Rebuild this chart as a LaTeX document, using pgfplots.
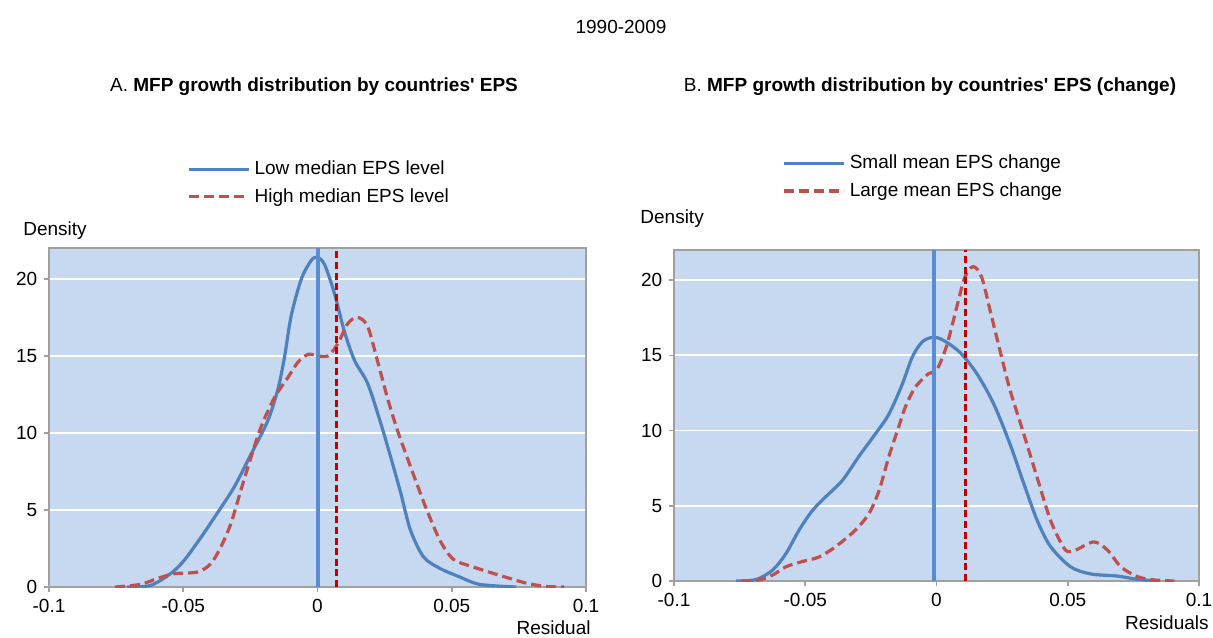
\documentclass[border=0pt]{standalone}
\usepackage{pgfplots}
\pgfplotsset{compat=1.18}
\usepackage{fontspec}
\setmainfont{Liberation Sans}[Ligatures=TeXOff]
\definecolor{bgblue}{RGB}{198,217,240}
\definecolor{cblue}{RGB}{79,129,189}
\definecolor{cred}{RGB}{192,80,77}
\definecolor{vblue}{RGB}{85,142,213}
\definecolor{vred}{RGB}{192,0,0}
\definecolor{framegray}{RGB}{160,160,160}
\begin{document}
\fontsize{9.5}{11.5}\selectfont
\begin{tikzpicture}
\useasboundingbox (0pt,0pt) rectangle (606.5pt,-318.5pt);
\pgfplotsset{
  myax/.style={
    scale only axis,
    xmin=-0.1, xmax=0.1, ymin=0, ymax=22,
    xtick={-0.1,-0.05,0,0.05,0.1},
    xticklabels={-0.1,-0.05,0,0.05,0.1},
    ytick={0,5,10,15,20},
    ymajorgrids,
    grid style={white, line width=0.9pt},
    axis background/.style={fill=bgblue},
    axis line style={framegray, line width=1.1pt},
    tick style={framegray, line width=0.8pt},
    major tick length=2.5pt,
    tick align=outside,
    xtick pos=bottom, ytick pos=left,
    ticklabel style={font=\fontsize{9.5}{11}\selectfont},
    /pgf/number format/assume math mode=true,
    legend style={draw=none, fill=none, font=\fontsize{9.5}{11}\selectfont,
      inner sep=0pt, row sep=1.5pt, legend cell align=left},
    legend image code/.code={\draw[##1] (0pt,0pt) -- (30pt,0pt);},
    clip=true,
  },
  curveblue/.style={cblue, line width=1.6pt, smooth, tension=0.5},
  curvered/.style={cred, line width=1.6pt, dash pattern=on 5pt off 2.5pt, smooth, tension=0.5},
  vblueline/.style={vblue, line width=2pt},
  vredline/.style={vred, line width=1.8pt, dash pattern=on 3.5pt off 1.8pt},
}

% Panel A
\begin{axis}[myax, at={(24.5pt,-293.5pt)}, anchor=south west, width=268.5pt, height=169.5pt,
  legend style={at={(0.257,1.27)}, anchor=north west}]
\addplot[curveblue] coordinates {
(-0.071,0) (-0.0623,0.1) (-0.0548,0.86) (-0.0498,1.7) (-0.0435,3.2) (-0.0373,4.8)
(-0.031,6.5) (-0.0248,8.6) (-0.0185,10.8) (-0.0148,12.8) (-0.0123,14.9) (-0.0098,17.6)
(-0.006,20.0) (-0.0023,21.2) (0,21.4) (0.0027,20.9) (0.0064,19.0) (0.010,16.6)
(0.0138,14.7) (0.0187,13.2) (0.0236,10.6) (0.0273,8.4) (0.031,6.1) (0.0346,3.7)
(0.0395,1.95) (0.0457,1.2) (0.053,0.65) (0.0604,0.17) (0.074,0)};
\addlegendentry{Low median EPS level}
\addplot[curvered] coordinates {
(-0.0754,0) (-0.066,0.17) (-0.0598,0.54) (-0.0535,0.86) (-0.0448,0.97) (-0.0398,1.5)
(-0.036,2.6) (-0.0323,4.1) (-0.0285,6.3) (-0.0248,8.4) (-0.021,10.4) (-0.016,12.3)
(-0.011,13.6) (-0.00725,14.6) (-0.0035,15.1) (0,15.0) (0.0039,15.0) (0.0076,15.8)
(0.0113,17.1) (0.015,17.5) (0.0187,16.9) (0.0223,14.7) (0.026,12.3) (0.0297,10.2)
(0.0334,8.4) (0.037,6.7) (0.0407,5.0) (0.0457,3.0) (0.0506,1.8) (0.058,1.3)
(0.0678,0.76) (0.0776,0.26) (0.085,0.04) (0.0918,0)};
\addlegendentry{High median EPS level}
\addplot[vblueline, forget plot] coordinates {(0,0) (0,22)};
\addplot[vredline, forget plot] coordinates {(0.007,0) (0.007,22)};
\end{axis}

% Panel B
\begin{axis}[myax, at={(337pt,-290.5pt)}, anchor=south west, width=262.5pt, height=165.5pt,
  legend style={at={(0.206,1.30)}, anchor=north west}]
\addplot[curveblue] coordinates {
(-0.0763,0) (-0.0687,0.1) (-0.0624,0.73) (-0.0573,1.84) (-0.0523,3.4) (-0.0472,4.7)
(-0.0422,5.6) (-0.0358,6.7) (-0.0295,8.3) (-0.0232,9.8) (-0.0181,11.1) (-0.013,13.1)
(-0.0092,14.9) (-0.0054,15.9) (-0.0013,16.2) (0.0026,16.0) (0.0089,15.2) (0.0153,13.8)
(0.0217,11.8) (0.028,9.1) (0.0332,6.5) (0.0383,4.05) (0.0434,2.3) (0.051,0.95)
(0.0587,0.47) (0.0689,0.33) (0.0765,0.11) (0.0842,0)};
\addlegendentry{Small mean EPS change}
\addplot[curvered] coordinates {
(-0.0744,0) (-0.0675,0.07) (-0.0624,0.4) (-0.0573,0.95) (-0.051,1.3) (-0.0447,1.6)
(-0.0383,2.3) (-0.0308,3.4) (-0.0257,4.5) (-0.0219,6.0) (-0.0181,8.3) (-0.0143,10.3)
(-0.0118,11.6) (-0.008,12.9) (-0.0029,13.8) (0,14.0) (0.0038,15.6) (0.0077,18.2)
(0.0108,20.2) (0.014,20.9) (0.0172,20.2) (0.0204,18.0) (0.0242,15.3) (0.028,12.7)
(0.0332,9.8) (0.0383,6.9) (0.0434,4.05) (0.0485,2.2) (0.051,1.95) (0.0536,2.1)
(0.06,2.6) (0.0651,2.06) (0.0702,0.95) (0.0765,0.29) (0.0829,0.07) (0.0906,0)};
\addlegendentry{Large mean EPS change}
\addplot[vblueline, forget plot] coordinates {(-0.001,0) (-0.001,22)};
\addplot[vredline, forget plot] coordinates {(0.011,0) (0.011,22)};
\end{axis}

% Texts
\node at (310.5pt,-13.5pt) {1990-2009};
\node at (157pt,-43.5pt) {A. \textbf{MFP growth distribution by countries' EPS}};
\node at (465pt,-43.5pt) {B. \textbf{MFP growth distribution by countries' EPS (change)}};
\node[anchor=west, inner sep=0pt] at (11.5pt,-115.5pt) {Density};
\node[anchor=west, inner sep=0pt] at (320pt,-109.5pt) {Density};
\node[anchor=east, inner sep=0pt] at (295.5pt,-314pt) {Residual};
\node[anchor=east, inner sep=0pt] at (604.5pt,-311.5pt) {Residuals};
\end{tikzpicture}
\end{document}
